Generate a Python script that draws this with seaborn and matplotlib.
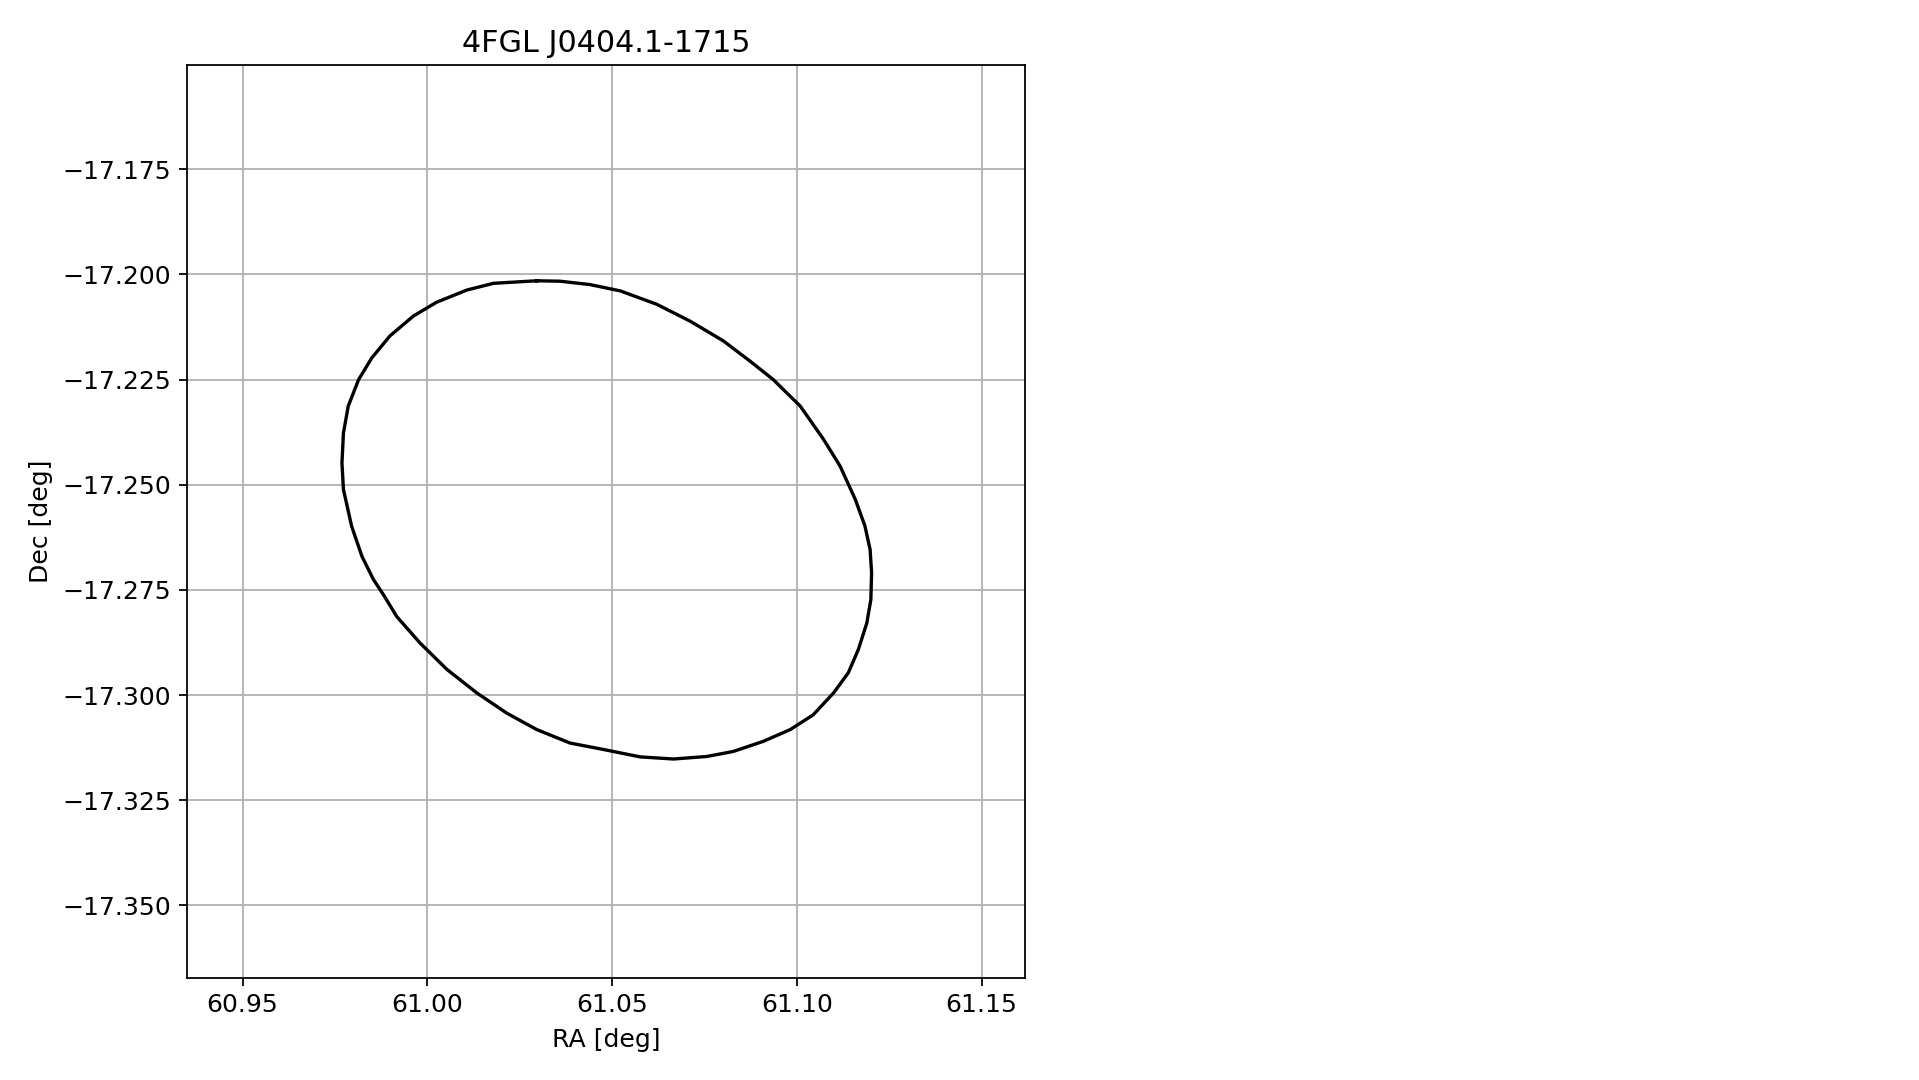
import matplotlib
matplotlib.use("Agg")
import matplotlib.pyplot as plt
import seaborn as sns
import pandas as pd

# source name + error ellipse outline (deg)
SRC = "4FGL J0404.1-1715"
ra = [61.0296, 61.0359, 61.0440, 61.0522, 61.0621, 61.0711, 61.0801, 61.0873,
      61.0936, 61.1009, 61.1072, 61.1117, 61.1158, 61.1184, 61.1198, 61.1202,
      61.1200, 61.1189, 61.1166, 61.1139, 61.1099, 61.1044, 61.0982, 61.0909,
      61.0828, 61.0756, 61.0666, 61.0576, 61.0486, 61.0386, 61.0296, 61.0215,
      61.0134, 61.0053, 60.9980, 60.9917, 60.9881, 60.9854, 60.9823, 60.9795,
      60.9773, 60.9769, 60.9773, 60.9786, 60.9814, 60.9850, 60.9899, 60.9962,
      61.0025, 61.0107, 61.0179]
dec = [-17.2015, -17.2016, -17.2024, -17.2039, -17.2071, -17.2111, -17.2158, -17.2206,
       -17.2250, -17.2313, -17.2392, -17.2456, -17.2535, -17.2598, -17.2654, -17.2709,
       -17.2773, -17.2829, -17.2892, -17.2947, -17.2995, -17.3047, -17.3082, -17.3110,
       -17.3134, -17.3146, -17.3152, -17.3147, -17.3131, -17.3114, -17.3082, -17.3043,
       -17.2995, -17.2939, -17.2876, -17.2813, -17.2761, -17.2725, -17.2670, -17.2598,
       -17.2511, -17.2448, -17.2377, -17.2313, -17.2250, -17.2198, -17.2146, -17.2099,
       -17.2066, -17.2037, -17.2021]

# close the loop
df = pd.DataFrame({"ra": ra + ra[:1], "dec": dec + dec[:1]})

plt.rcParams["font.size"] = 11.3

fig = plt.figure(figsize=(11.994, 6.75), dpi=160)
ax = fig.add_axes([0.0973, 0.0947, 0.4370, 0.8451])

sns.lineplot(data=df, x="ra", y="dec", sort=False, estimator=None,
             color="black", lw=1.5, ax=ax)

ax.set_xlim(60.9349, 61.1618)
ax.set_ylim(-17.3672, -17.1502)
ax.yaxis.set_major_locator(matplotlib.ticker.MultipleLocator(0.025))
ax.grid(True)
ax.set_xlabel("RA [deg]", labelpad=5)
ax.set_ylabel("Dec [deg]")
ax.set_title(SRC, pad=6)

fig.savefig("out.png", dpi=160)
